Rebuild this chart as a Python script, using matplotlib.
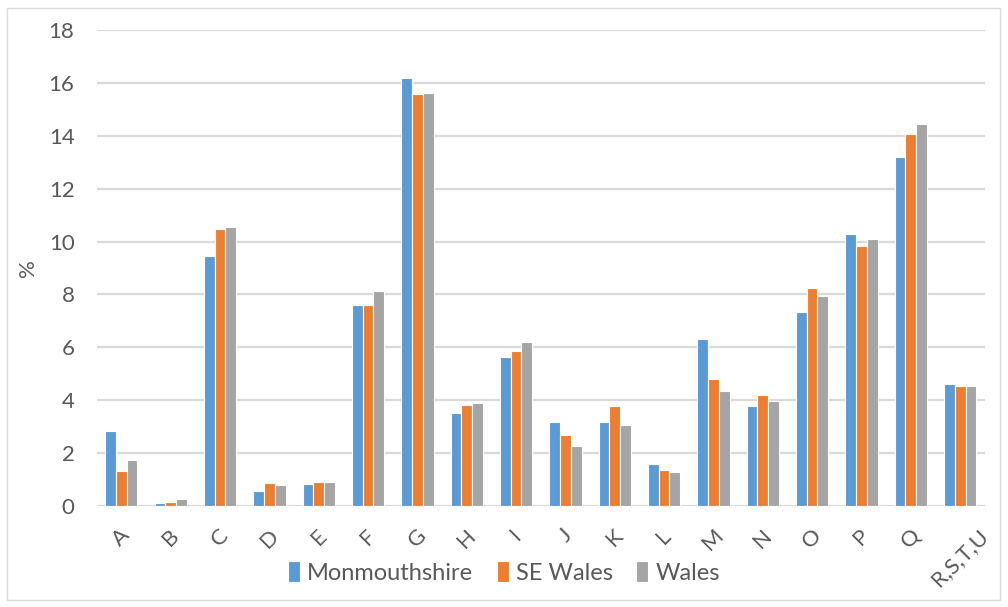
import numpy as np
import matplotlib
matplotlib.use("Agg")
import matplotlib.pyplot as plt
from matplotlib.patches import Rectangle

# industry sections (SIC) and share of employment, %
sections = ["A", "B", "C", "D", "E", "F", "G", "H", "I", "J", "K", "L",
            "M", "N", "O", "P", "Q", "R,S,T,U"]
monmouthshire = [2.85, 0.10, 9.47, 0.57, 0.82, 7.60, 16.20, 3.51, 5.64, 3.16,
                 3.16, 1.57, 6.31, 3.78, 7.34, 10.28, 13.18, 4.63]
se_wales = [1.32, 0.15, 10.49, 0.86, 0.91, 7.60, 15.57, 3.83, 5.86, 2.70,
            3.78, 1.38, 4.80, 4.18, 8.23, 9.84, 14.05, 4.53]
wales = [1.73, 0.26, 10.54, 0.81, 0.91, 8.14, 15.62, 3.91, 6.20, 2.28,
         3.06, 1.28, 4.33, 3.98, 7.95, 10.10, 14.45, 4.53]

series = [("Monmouthshire", monmouthshire, "#5B9BD5"),
          ("SE Wales", se_wales, "#ED7D31"),
          ("Wales", wales, "#A5A5A5")]

plt.rcParams["font.family"] = ["Lato", "DejaVu Sans"]
txt = "#595959"
fs = 16

fig = plt.figure(figsize=(10.08, 6.07), dpi=100)
ax = fig.add_axes([0.096, 0.1664, 0.881, 0.7842])

x = np.arange(len(sections))
pitch = 0.217
for i, (name, vals, col) in enumerate(series):
    ax.bar(x + (i - 1) * pitch, vals, width=pitch, color=col,
           edgecolor="white", linewidth=0.8, label=name, zorder=3)

ax.set_xlim(-0.5, len(sections) - 0.5)
ax.set_ylim(0, 18)
ax.set_yticks(range(0, 19, 2))
ax.grid(axis="y", color="#D9D9D9", linewidth=1.6, zorder=0)
ax.set_axisbelow(True)
for s in ax.spines.values():
    s.set_visible(False)
ax.tick_params(length=0, colors=txt, labelsize=fs)
ax.tick_params(axis="y", pad=16)
ax.set_xticks(x)
ax.set_xticklabels(sections, rotation=45, ha="center", va="top")
ax.tick_params(axis="x", pad=14)
ax.set_ylabel("%", color=txt, fontsize=fs, labelpad=8)

fig.legend(loc="center", bbox_to_anchor=(0.5, 0.057), ncol=3, frameon=False,
           fontsize=17, labelcolor=txt, handlelength=0.5, handleheight=1.0,
           handletextpad=0.3, columnspacing=1.0)

# thin border round the chart area
fig.patches.append(Rectangle((7 / 1008, 7 / 607), 993 / 1008, 592 / 607,
                             transform=fig.transFigure, fill=False,
                             edgecolor="#D9D9D9", linewidth=1.0))

fig.savefig("out.png", dpi=100)
